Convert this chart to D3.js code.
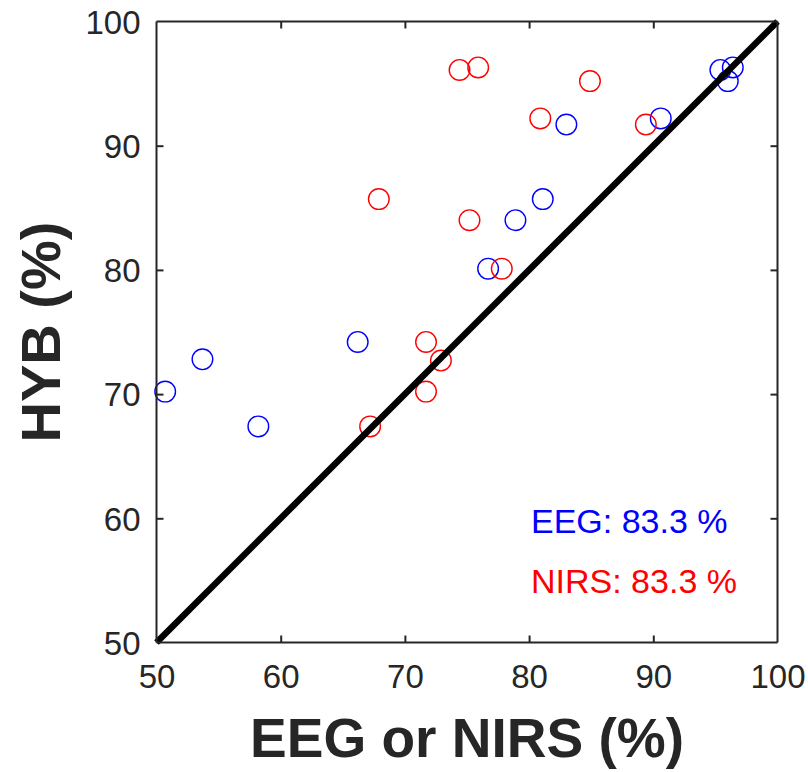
<!DOCTYPE html>
<html>
<head>
<meta charset="utf-8">
<script src="https://cdn.jsdelivr.net/npm/d3@7"></script>
<style>
  html, body { margin: 0; padding: 0; background: #fff; }
  svg { display: block; }
  text { font-family: "Liberation Sans", Arial, Helvetica, sans-serif; }
</style>
</head>
<body>
<svg id="chart" width="808" height="772"></svg>
<script>
// ---- data ----
const eegX = [50.7, 53.7, 58.2, 66.2, 76.7, 78.9, 81.1, 83.0, 90.6, 95.4, 96.4, 96.0];
const eegY = [70.2, 72.8, 67.4, 74.2, 80.1, 84.0, 85.7, 91.7, 92.2, 96.1, 96.3, 95.2];
const nirsX = [67.2, 71.7, 71.7, 72.9, 77.8, 67.9, 75.2, 74.4, 75.9, 80.9, 84.9, 89.4];
const nirsY = [67.4, 70.2, 74.2, 72.7, 80.1, 85.7, 84.0, 96.1, 96.3, 92.2, 95.2, 91.7];
const xTicks = [50, 60, 70, 80, 90, 100];
const yTicks = [50, 60, 70, 80, 90, 100];
const diagonal = [50, 100];
const legendLabels = ["EEG: 83.3 %", "NIRS: 83.3 %"];
const xTitle = "EEG or NIRS (%)";
const yTitle = "HYB (%)";

// ---- layout ----
const svg = d3.select("#chart");
const pLeft = 156.5, pRight = 777.5, pTop = 21.5, pBottom = 642.5;
const axisColor = "#262626";
const x = d3.scaleLinear().domain([50, 100]).range([pLeft, pRight]);
const y = d3.scaleLinear().domain([50, 100]).range([pBottom, pTop]);

// circles
const g = svg.append("g");
function drawSeries(xs, ys, color) {
  g.selectAll(null).data(xs.map((v, i) => [v, ys[i]])).enter()
    .append("circle")
    .attr("cx", d => x(d[0])).attr("cy", d => y(d[1]))
    .attr("r", 10.3)
    .attr("fill", "none").attr("stroke", color).attr("stroke-width", 1.4);
}
drawSeries(eegX, eegY, "#0000ff");
drawSeries(nirsX, nirsY, "#ff0000");

// diagonal line
svg.append("line")
  .attr("x1", x(diagonal[0])).attr("y1", y(diagonal[0]))
  .attr("x2", x(diagonal[1])).attr("y2", y(diagonal[1]))
  .attr("stroke", "#000").attr("stroke-width", 6.5).attr("stroke-linecap", "butt");

// axes (box with inward ticks)
const tickLen = 7;
const bottomAxis = d3.axisBottom(x).tickValues(xTicks).tickSize(-tickLen).tickPadding(22).tickFormat(d3.format("d"));
const topAxis = d3.axisTop(x).tickValues(xTicks).tickSize(-tickLen).tickFormat("");
const leftAxis = d3.axisLeft(y).tickValues(yTicks).tickSize(-tickLen).tickPadding(16).tickFormat(d3.format("d"));
const rightAxis = d3.axisRight(y).tickValues(yTicks).tickSize(-tickLen).tickFormat("");

function styleAxis(sel) {
  sel.select(".domain").attr("stroke", axisColor).attr("stroke-width", 2);
  sel.selectAll(".tick line").attr("stroke", axisColor).attr("stroke-width", 2);
  sel.selectAll(".tick text").attr("fill", axisColor).style("font-size", "33px")
     .style("font-family", "'Liberation Sans', Arial, sans-serif");
}
const gb = svg.append("g").attr("transform", `translate(0,${pBottom})`).call(bottomAxis);
gb.select(".domain").attr("d", `M${pLeft},0H${pRight}`);
styleAxis(gb);
const gt = svg.append("g").attr("transform", `translate(0,${pTop})`).call(topAxis);
gt.select(".domain").attr("d", `M${pLeft},0H${pRight}`);
styleAxis(gt);
const gl = svg.append("g").attr("transform", `translate(${pLeft},0)`).call(leftAxis);
gl.select(".domain").attr("d", `M0,${pBottom}V${pTop}`);
styleAxis(gl);
gl.selectAll(".tick text").attr("dy", "0.36em");
const gr = svg.append("g").attr("transform", `translate(${pRight},0)`).call(rightAxis);
gr.select(".domain").attr("d", `M0,${pBottom}V${pTop}`);
styleAxis(gr);
// no tick marks at the box corners
[gb, gt, gl, gr].forEach(a => a.selectAll(".tick line").filter(d => d === 50 || d === 100).remove());

// titles
svg.append("text")
  .attr("x", (pLeft + pRight) / 2).attr("y", 757)
  .attr("text-anchor", "middle")
  .attr("fill", axisColor).style("font-size", "55px").style("font-weight", "bold")
  .text(xTitle);
svg.append("text")
  .attr("transform", `translate(60,${(pTop + pBottom) / 2}) rotate(-90)`)
  .attr("text-anchor", "middle")
  .attr("fill", axisColor).style("font-size", "56px").style("font-weight", "bold")
  .text(yTitle);

// annotations
const legendColors = ["#0000ff", "#ff0000"];
svg.selectAll(".ann").data(legendLabels).enter().append("text")
  .attr("class", "ann")
  .attr("x", 531).attr("y", (d, i) => 533 + i * 60)
  .attr("fill", (d, i) => legendColors[i])
  .style("font-size", "34px")
  .text(d => d);
</script>
</body>
</html>
